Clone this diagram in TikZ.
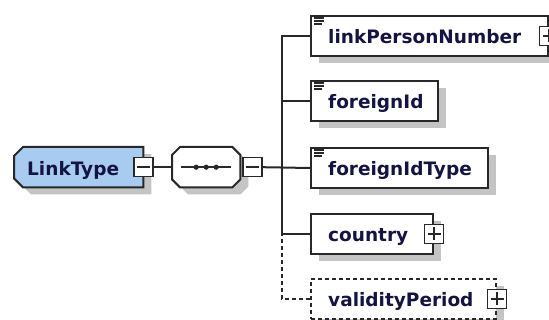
\documentclass[tikz,border=0pt]{standalone}
\usepackage{fontspec}
\setmainfont{DejaVu Sans}
\usetikzlibrary{shadows}
\definecolor{typefill}{RGB}{168,203,240}
\definecolor{shadowgray}{RGB}{196,196,196}
\definecolor{edgecol}{RGB}{40,40,40}
\definecolor{labelcol}{RGB}{20,20,64}
\tikzset{
  shadowed/.style={general shadow={fill=shadowgray, shadow xshift=8pt, shadow yshift=-7pt}},
  elembox/.style={rectangle, draw=edgecol, line width=2pt, fill=white, inner sep=0pt, anchor=north west, shadowed},
  optbox/.style={elembox, dash pattern=on 4pt off 3pt},
  anchorbox/.style={rectangle, inner sep=0pt, anchor=north west},
  outline/.style={draw=edgecol, line width=2pt, line join=miter, shadowed},
  txt/.style={anchor=base west, inner sep=0pt, font=\fontsize{18.5}{20}\selectfont\bfseries, text=labelcol},
  pmbox/.style={rectangle, draw=edgecol, fill=white, line width=1.5pt, minimum size=19pt, inner sep=0pt},
  minusbox/.style={pmbox, path picture={\draw[edgecol, line width=1.5pt]
      ([xshift=3pt]path picture bounding box.west) -- ([xshift=-3pt]path picture bounding box.east);}},
  plusbox/.style={pmbox, path picture={\draw[edgecol, line width=1.5pt]
      ([xshift=3pt]path picture bounding box.west) -- ([xshift=-3pt]path picture bounding box.east)
      ([yshift=-3pt]path picture bounding box.north) -- ([yshift=3pt]path picture bounding box.south);}},
  conn/.style={draw=edgecol, line width=2pt},
  eqicon/.pic={\draw[edgecol, line width=1.2pt] (0,0) -- (10,0) (0,3) -- (10,3) (0,6) -- (8,6);}
}
\begin{document}
\begin{tikzpicture}[x=1pt,y=-1pt]
\useasboundingbox (0,0) rectangle (549,320);
% root type
\node[anchorbox, minimum width=129pt, minimum height=40pt] (lt) at (14,147) {};
\path[outline, fill=typefill] ([xshift=9pt]lt.north west) -- (lt.north east) -- (lt.south east)
   -- ([xshift=9pt]lt.south west) -- ([yshift=9pt]lt.south west) -- ([yshift=-9pt]lt.north west) -- cycle;
\node[txt] (ltt) at ([shift={(13,8)}]lt.west) {LinkType};
% sequence compositor
\node[anchorbox, minimum width=68pt, minimum height=40pt] (seq) at (172,147) {};
\path[outline, fill=white] ([xshift=8pt]seq.north west) -- ([xshift=-8pt]seq.north east)
   -- ([yshift=-8pt]seq.north east) -- ([yshift=8pt]seq.south east) -- ([xshift=-8pt]seq.south east)
   -- ([xshift=8pt]seq.south west) -- ([yshift=8pt]seq.south west) -- ([yshift=-8pt]seq.north west) -- cycle;
\draw[edgecol, line width=1.5pt] ([xshift=-25pt]seq.center) -- ([xshift=25pt]seq.center);
\foreach \dx in {-10,0,10} \fill[edgecol] ([xshift=\dx pt]seq.center) circle (2.6pt);
% children
\node[elembox, minimum width=237pt, minimum height=40pt] (c1) at (310,15) {};
\node[elembox, minimum width=127pt, minimum height=40pt] (c2) at (310,80) {};
\node[elembox, minimum width=177pt, minimum height=40pt] (c3) at (310,147) {};
\node[elembox, minimum width=122pt, minimum height=40pt] (c4) at (310,213) {};
\node[optbox, minimum width=185pt, minimum height=40pt] (c5) at (310,278) {};
\node[txt] (t1) at ([shift={(18,8)}]c1.west) {linkPersonNumber};
\node[txt] (t2) at ([shift={(18,8)}]c2.west) {foreignId};
\node[txt] (t3) at ([shift={(18,8)}]c3.west) {foreignIdType};
\node[txt] (t4) at ([shift={(18,8)}]c4.west) {country};
\node[txt] (t5) at ([shift={(18,8)}]c5.west) {validityPeriod};
\pic at ([shift={(4,3)}]c1.north west) {eqicon};
\pic at ([shift={(4,3)}]c2.north west) {eqicon};
\pic at ([shift={(4,3)}]c3.north west) {eqicon};
% expand / collapse boxes
\node[minusbox] (m1) at (lt.east) {};
\node[minusbox, anchor=west] (m2) at ([xshift=2pt]seq.east) {};
\node[plusbox] (p1) at (c1.east) {};
\node[plusbox] (p4) at (c4.east) {};
\node[plusbox] (p5) at (c5.east) {};
% connectors
\coordinate (j3) at (282,167);
\coordinate (j4) at (282,233);
\draw[conn] (m1.east) -- (seq.west);
\draw[conn] (m2.east) -- (c3.west);
\draw[conn] (c1.west) -| (j3);
\draw[conn] (c2.west) -| (j3);
\draw[conn] (c4.west) -| (j3);
\draw[conn, dash pattern=on 4pt off 3pt] (c5.west) -| (j4);
\end{tikzpicture}
\end{document}
